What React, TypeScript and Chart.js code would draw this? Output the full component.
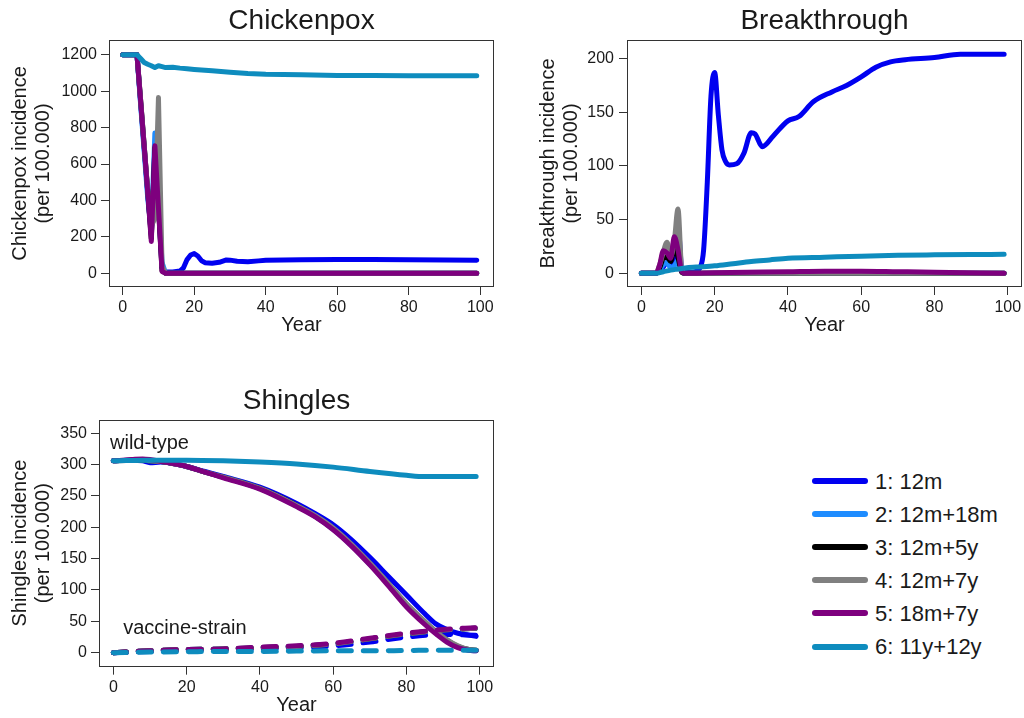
import React, { useEffect, useRef } from "react";
import { Chart, registerables } from "chart.js";

Chart.register(...registerables);

const FONT = "'Liberation Sans', Arial, Helvetica, sans-serif";
const TEXT = "#1a1a1a";
const AXIS = "#333333";

// Vaccination scenarios
const scenarioNames = ["1: 12m", "2: 12m+18m", "3: 12m+5y", "4: 12m+7y", "5: 18m+7y", "6: 11y+12y"];
const scenarioColors = ["#0000F0", "#1E8CFF", "#000000", "#808080", "#7E007E", "#0E8CBE"];

// Axis ticks
const yearTicks = [0, 20, 40, 60, 80, 100];
const chickenpoxTicks = [0, 200, 400, 600, 800, 1000, 1200];
const breakthroughTicks = [0, 50, 100, 150, 200];
const shinglesTicks = [0, 50, 100, 150, 200, 250, 300, 350];

// Chickenpox incidence (per 100.000)
const cpYears1 = [0, 4, 5, 6, 7, 8, 9, 10, 11, 12, 14, 16, 17, 18, 19, 20, 21, 22, 23, 25, 27, 29, 30, 32, 35, 38, 40, 50, 60, 70, 80, 90, 99];
const cp1 = [1200, 1200, 940, 690, 440, 210, 640, 380, 30, 8, 7, 12, 30, 75, 100, 108, 95, 70, 58, 55, 60, 73, 72, 66, 63, 68, 72, 74, 75, 75, 74, 73, 72];
const cpYearsEarly = [0, 4, 5, 6, 7, 8, 9, 10, 11, 12, 99];
const cp2 = [1200, 1200, 930, 670, 410, 240, 770, 420, 60, 0, 0];
const cp3 = [1200, 1200, 955, 705, 450, 190, 690, 370, 15, 0, 0];
const cp4 = [1200, 1200, 955, 705, 455, 260, 300, 965, 40, 0, 0];
const cp5 = [1200, 1200, 950, 700, 445, 175, 700, 360, 10, 0, 0];
const cpYears6 = [0, 4, 5, 6, 7, 8, 9, 10, 11, 12, 14, 16, 18, 20, 25, 30, 35, 40, 50, 60, 70, 80, 99];
const cp6 = [1200, 1200, 1180, 1158, 1148, 1140, 1130, 1140, 1135, 1130, 1132, 1127, 1124, 1120, 1112, 1104, 1097, 1093, 1090, 1087, 1086, 1085, 1085];

// Breakthrough incidence (per 100.000)
const btYears1 = [0, 4, 5, 6, 7, 8, 9, 10, 11, 12, 14, 15, 16, 17, 18, 19, 20, 21, 22, 23, 24, 26, 28, 30, 31, 33, 36, 40, 43, 47, 52, 56, 60, 64, 68, 72, 80, 87, 99];
const bt1 = [0, 0, 2, 6, 10, 8, 14, 45, 5, 1, 1, 2, 5, 22, 85, 165, 187, 148, 115, 104, 101, 102, 112, 131, 130, 118, 128, 142, 146, 160, 169, 175, 183, 192, 197, 199, 201, 204, 204];
const btYearsEarly = [0, 4, 5, 6, 7, 8, 9, 10, 11, 12, 99];
const bt2 = [0, 0, 3, 8, 10, 5, 7, 12, 2, 0, 0];
const bt3 = [0, 0, 5, 14, 15, 11, 24, 15, 1, 0, 0];
const bt4 = [0, 0, 8, 20, 29, 16, 30, 60, 5, 0, 0];
const btYears5 = [0, 4, 5, 6, 7, 8, 9, 10, 11, 12, 20, 40, 50, 60, 70, 80, 99];
const bt5 = [0, 0, 8, 21, 19, 14, 34, 22, 2, 0, 0.5, 1.5, 2, 2, 1.5, 1, 0];
const btYears6 = [0, 4, 6, 8, 10, 12, 15, 20, 25, 30, 35, 40, 50, 60, 70, 80, 90, 99];
const bt6 = [0, 0, 1.5, 3, 4, 5, 5.8, 7, 9, 11, 12.5, 14, 15, 16, 16.8, 17.2, 17.5, 17.7];

// Shingles incidence (per 100.000): wild-type (solid) and vaccine-strain (dashed)
const shYearsWild = [0, 5, 8, 10, 13, 16, 20, 25, 30, 40, 50, 55, 60, 65, 70, 75, 80, 85, 88, 91, 94, 97, 99];
const shWild1 = [306, 307, 306, 303, 304, 302, 297, 289, 281, 264, 238, 222, 204, 180, 152, 122, 92, 62, 46, 37, 31, 28, 26];
const shWild2 = [306, 307, 307, 306, 305, 302, 297, 288, 280, 262, 234, 218, 197, 171, 141, 109, 75, 47, 32, 19, 9, 4, 3];
const shWild3 = [306, 307, 307, 306, 305, 302, 297, 288, 280, 262, 235, 218, 198, 172, 142, 110, 77, 49, 33, 20, 10, 5, 4];
const shWild4 = [306, 307, 308, 306, 305, 302, 297, 288, 280, 262, 235, 219, 199, 173, 143, 111, 78, 50, 34, 21, 11, 5, 4];
const shWild5 = [306, 308, 309, 308, 305, 302, 297, 288, 279, 261, 233, 217, 196, 170, 140, 107, 73, 45, 30, 17, 8, 4, 3];
const shYearsWild6 = [0, 10, 20, 30, 40, 50, 60, 70, 80, 85, 90, 99];
const shWild6 = [306, 307, 307, 306, 304, 301, 296, 289, 283, 281, 281, 281];
const shYearsVacc = [0, 10, 20, 30, 40, 50, 60, 70, 80, 90, 99];
const shVacc1 = [0, 2, 4, 5, 6, 8, 11, 17, 25, 29, 28];
const shVacc2 = [0, 3, 5, 6, 8, 10, 14, 22, 30, 36, 39];
const shVacc3 = [0, 3, 5, 6, 8, 10, 14, 22, 30, 36, 39];
const shVacc4 = [0, 3, 5, 6, 8, 10, 14, 22, 30, 36, 39];
const shVacc5 = [0, 3, 5, 6, 9, 11, 15, 23, 31, 37, 40];
const shVacc6 = [0, 1, 1.5, 2, 2, 2.5, 3, 3, 3.5, 4, 4];

// In-plot labels of the shingles panel (year, incidence)
const shinglesNotes = ["wild-type", "vaccine-strain"];
const shinglesNoteYears = [-0.9, 2.7];
const shinglesNoteValues = [334, 39];

const points = (xs: number[], ys: number[]) => xs.map((x, i) => ({ x, y: ys[i] }));

function lineSet(idx: number, xs: number[], ys: number[], smooth: boolean, dashed = false) {
  return {
    label: scenarioNames[idx] + (dashed ? " (vaccine-strain)" : ""),
    data: points(xs, ys),
    borderColor: scenarioColors[idx],
    backgroundColor: scenarioColors[idx],
    borderWidth: 5,
    pointRadius: 0,
    fill: false,
    tension: 0,
    cubicInterpolationMode: smooth ? "monotone" : "default",
    borderCapStyle: "round",
    borderJoinStyle: "round",
    borderDash: dashed ? [13, 12] : [],
    order: 5 - idx,
  };
}

// Closed box around the plotting region
const framePlugin = {
  id: "frame",
  afterDatasetsDraw(chart: any) {
    const { ctx, chartArea: a } = chart;
    ctx.save();
    ctx.strokeStyle = AXIS;
    ctx.lineWidth = 1;
    const l = Math.round(a.left) - 0.5;
    const t = Math.round(a.top) - 0.5;
    const r = Math.round(a.right) + 0.5;
    const b = Math.round(a.bottom) + 0.5;
    ctx.strokeRect(l, t, r - l, b - t);
    ctx.restore();
  },
};

function notesPlugin(texts: string[], xs: number[], ys: number[]) {
  return {
    id: "notes",
    afterDatasetsDraw(chart: any) {
      const { ctx, scales } = chart;
      ctx.save();
      ctx.font = `20px ${FONT}`;
      ctx.fillStyle = TEXT;
      ctx.textAlign = "left";
      ctx.textBaseline = "middle";
      texts.forEach((t, i) => {
        ctx.fillText(t, scales.x.getPixelForValue(xs[i]), scales.y.getPixelForValue(ys[i]));
      });
      ctx.restore();
    },
  };
}

type PanelSpec = {
  title: string;
  yTitle: string[];
  yTicks: number[];
  yMin: number;
  yMax: number;
  xMin: number;
  xMax: number;
  yAxisWidth: number;
  xAxisHeight: number;
  padRight: number;
  titlePad: { top: number; bottom: number };
  yTitlePad: number;
  yTickPad: number;
  xTitlePad: number;
  datasets: any[];
  extraPlugins?: any[];
};

function buildConfig(p: PanelSpec) {
  const tickFont = { family: FONT, size: 16, lineHeight: 1.2 };
  const grid = { display: true, drawOnChartArea: false, drawTicks: true, tickLength: 9, color: AXIS, lineWidth: 1 };
  return {
    type: "line",
    data: { datasets: p.datasets },
    options: {
      animation: false,
      responsive: false,
      maintainAspectRatio: false,
      events: [],
      layout: { padding: { left: 0, right: p.padRight, top: 0, bottom: 0 } },
      plugins: {
        legend: { display: false },
        tooltip: { enabled: false },
        title: {
          display: true,
          text: p.title,
          fullSize: false,
          color: TEXT,
          font: { family: FONT, size: 28, weight: "normal", lineHeight: 1.2 },
          padding: p.titlePad,
        },
      },
      scales: {
        x: {
          type: "linear",
          min: p.xMin,
          max: p.xMax,
          bounds: "data",
          afterBuildTicks: (s: any) => {
            s.ticks = yearTicks.map((v) => ({ value: v }));
          },
          afterFit: (s: any) => {
            s.height = p.xAxisHeight;
            s.paddingLeft = 0;
            s.paddingRight = 0;
          },
          grid,
          border: { display: false },
          ticks: { autoSkip: false, maxRotation: 0, padding: 3, color: TEXT, font: tickFont, callback: (v: any) => String(v) },
          title: {
            display: true,
            text: "Year",
            color: TEXT,
            font: { family: FONT, size: 20, lineHeight: 1.15 },
            padding: { top: 0, bottom: p.xTitlePad },
          },
        },
        y: {
          type: "linear",
          min: p.yMin,
          max: p.yMax,
          bounds: "data",
          afterBuildTicks: (s: any) => {
            s.ticks = p.yTicks.map((v) => ({ value: v }));
          },
          afterFit: (s: any) => {
            s.width = p.yAxisWidth;
            s.paddingTop = 0;
            s.paddingBottom = 0;
          },
          grid,
          border: { display: false },
          ticks: { autoSkip: false, padding: p.yTickPad, color: TEXT, font: tickFont, callback: (v: any) => String(v) },
          title: {
            display: true,
            text: p.yTitle,
            color: TEXT,
            font: { family: FONT, size: 20, lineHeight: 1.15 },
            padding: { top: p.yTitlePad, bottom: 0 },
          },
        },
      },
    },
    plugins: [framePlugin, ...(p.extraPlugins || [])],
  };
}

function Panel({ left, top, width, height, spec }: { left: number; top: number; width: number; height: number; spec: () => PanelSpec }) {
  const ref = useRef<HTMLCanvasElement>(null);
  useEffect(() => {
    const chart = new Chart(ref.current as HTMLCanvasElement, buildConfig(spec()) as any);
    return () => chart.destroy();
  }, []);
  return <canvas ref={ref} width={width} height={height} style={{ position: "absolute", left, top, width, height }} />;
}

const chickenpoxSpec = (): PanelSpec => ({
  title: "Chickenpox",
  yTitle: ["Chickenpox incidence", "(per 100.000)"],
  yTicks: chickenpoxTicks,
  yMin: -70,
  yMax: 1276,
  xMin: -3.55,
  xMax: 103.55,
  yAxisWidth: 110,
  xAxisHeight: 54,
  padRight: 19,
  titlePad: { top: 4.2, bottom: 3.2 },
  yTitlePad: 8.5,
  yTickPad: 4,
  xTitlePad: 2.7,
  datasets: [
    lineSet(0, cpYears1, cp1, false),
    lineSet(1, cpYearsEarly, cp2, false),
    lineSet(2, cpYearsEarly, cp3, false),
    lineSet(3, cpYearsEarly, cp4, false),
    lineSet(4, cpYearsEarly, cp5, false),
    lineSet(5, cpYears6, cp6, false),
  ],
});

const breakthroughSpec = (): PanelSpec => ({
  title: "Breakthrough",
  yTitle: ["Breakthrough incidence", "(per 100.000)"],
  yTicks: breakthroughTicks,
  yMin: -11.8,
  yMax: 216.4,
  xMin: -3.64,
  xMax: 103.6,
  yAxisWidth: 116,
  xAxisHeight: 54,
  padRight: 3,
  titlePad: { top: 4.2, bottom: 3.2 },
  yTitlePad: 24.5,
  yTickPad: 5,
  xTitlePad: 2.7,
  datasets: [
    lineSet(0, btYears1, bt1, true),
    lineSet(1, btYearsEarly, bt2, true),
    lineSet(2, btYearsEarly, bt3, true),
    lineSet(3, btYearsEarly, bt4, true),
    lineSet(4, btYears5, bt5, true),
    lineSet(5, btYears6, bt6, true),
  ],
});

const shinglesSpec = (): PanelSpec => ({
  title: "Shingles",
  yTitle: ["Shingles incidence", "(per 100.000)"],
  yTicks: shinglesTicks,
  yMin: -20.7,
  yMax: 370.2,
  xMin: -3.64,
  xMax: 103.6,
  yAxisWidth: 100,
  xAxisHeight: 52.33,
  padRight: 19,
  titlePad: { top: 4, bottom: 3 },
  yTitlePad: 8.5,
  yTickPad: 4,
  xTitlePad: 0.7,
  datasets: [
    lineSet(0, shYearsWild, shWild1, true),
    lineSet(1, shYearsWild, shWild2, true),
    lineSet(2, shYearsWild, shWild3, true),
    lineSet(3, shYearsWild, shWild4, true),
    lineSet(4, shYearsWild, shWild5, true),
    lineSet(5, shYearsWild6, shWild6, true),
    lineSet(0, shYearsVacc, shVacc1, true, true),
    lineSet(1, shYearsVacc, shVacc2, true, true),
    lineSet(2, shYearsVacc, shVacc3, true, true),
    lineSet(3, shYearsVacc, shVacc4, true, true),
    lineSet(4, shYearsVacc, shVacc5, true, true),
    lineSet(5, shYearsVacc, shVacc6, true, true),
  ],
  extraPlugins: [notesPlugin(shinglesNotes, shinglesNoteYears, shinglesNoteValues)],
});

function ScenarioLegend() {
  return (
    <div style={{ position: "absolute", left: 812, top: 464.5, fontFamily: FONT, fontSize: 22, color: TEXT }}>
      {scenarioNames.map((name, i) => (
        <div key={name} style={{ display: "flex", alignItems: "center", height: 33.1 }}>
          <span style={{ display: "inline-block", width: 56, height: 6, borderRadius: 3, background: scenarioColors[i], marginRight: 7 }} />
          <span style={{ lineHeight: "33px", whiteSpace: "nowrap" }}>{name}</span>
        </div>
      ))}
    </div>
  );
}

export default function App() {
  return (
    <div style={{ position: "absolute", left: 0, top: 0, width: 1024, height: 718, background: "#ffffff", overflow: "hidden" }}>
      <Panel left={0} top={0} width={512} height={340} spec={chickenpoxSpec} />
      <Panel left={512} top={0} width={512} height={340} spec={breakthroughSpec} />
      <Panel left={0} top={380} width={512} height={338} spec={shinglesSpec} />
      <ScenarioLegend />
    </div>
  );
}
